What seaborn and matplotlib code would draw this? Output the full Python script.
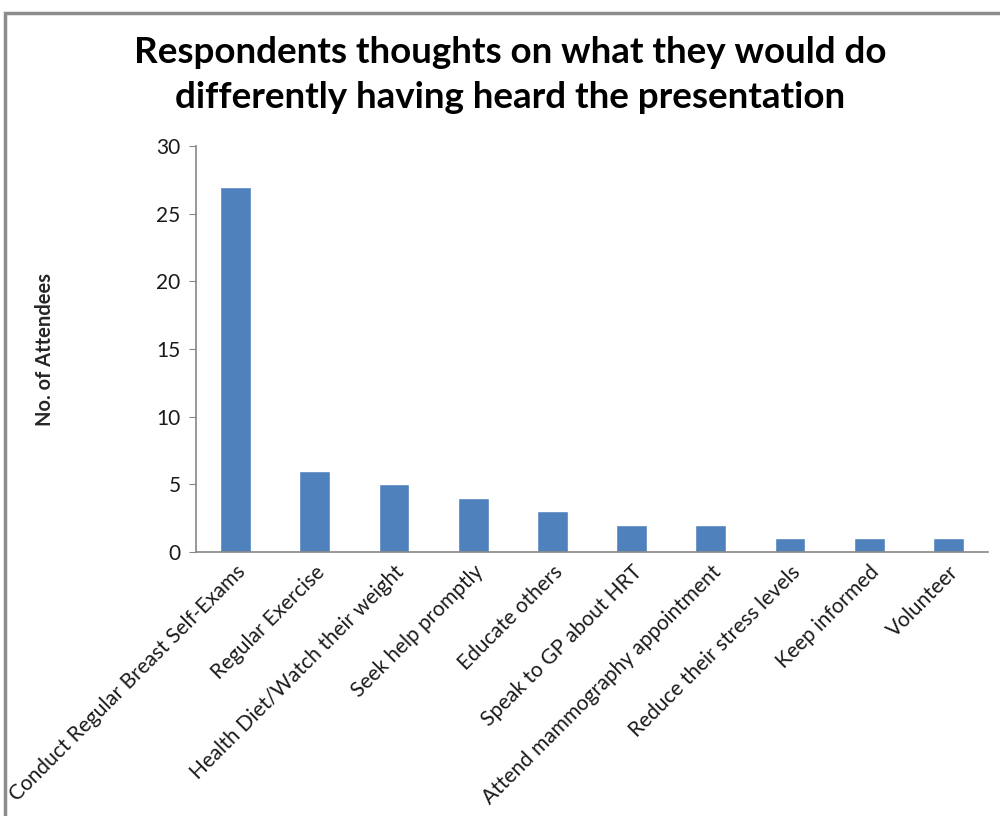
import seaborn as sns
import matplotlib.pyplot as plt
import pandas as pd
from matplotlib.patches import Rectangle

# chart data
actions = [
    "Conduct Regular Breast Self-Exams",
    "Regular Exercise",
    "Health Diet/Watch their weight",
    "Seek help promptly",
    "Educate others",
    "Speak to GP about HRT",
    "Attend mammography appointment",
    "Reduce their stress levels",
    "Keep informed",
    "Volunteer",
]
attendees = [27, 6, 5, 4, 3, 2, 2, 1, 1, 1]

df = pd.DataFrame({"action": actions, "count": attendees})

sns.set_style("white")
plt.rcParams["font.family"] = ["Lato", "DejaVu Sans"]

fig = plt.figure(figsize=(10, 8.16), dpi=100)
ax = fig.add_axes([0.196, 0.3235, 0.792, 0.4975])

sns.barplot(data=df, x="action", y="count", color="#4F81BD", width=0.39,
            saturation=1, ax=ax)

ax.set_ylim(0, 30)
ax.set_yticks(range(0, 31, 5))
ax.set_xlim(-0.5, len(actions) - 0.5)
ax.tick_params(axis="y", labelsize=15, length=5, color="#868686", direction="out",
               left=True, labelcolor="#1a1a1a", pad=6)
ax.tick_params(axis="x", labelsize=15, length=0, labelcolor="#1a1a1a", pad=7)
plt.setp(ax.get_xticklabels(), rotation=45, ha="right", rotation_mode="anchor")

for side in ["top", "right"]:
    ax.spines[side].set_visible(False)
for side in ["left", "bottom"]:
    ax.spines[side].set_color("#868686")
    ax.spines[side].set_linewidth(1.2)

ax.set_xlabel("")
ax.set_ylabel("No. of Attendees", fontsize=14.5, fontweight="bold", labelpad=0)
ax.yaxis.set_label_coords(-0.178, 0.5)

fig.text(0.51, 0.908, "Respondents thoughts on what they would do\ndifferently having heard the presentation",
         ha="center", va="center", fontsize=26.5, fontweight="bold", linespacing=1.45,
         color="black")

# outer chart frame
fig.patches.append(Rectangle((0.005, -0.1), 1.2, 1.084, transform=fig.transFigure,
                             fill=False, edgecolor="#8c8c8c", linewidth=2.5))

fig.savefig("out.png", dpi=100)
